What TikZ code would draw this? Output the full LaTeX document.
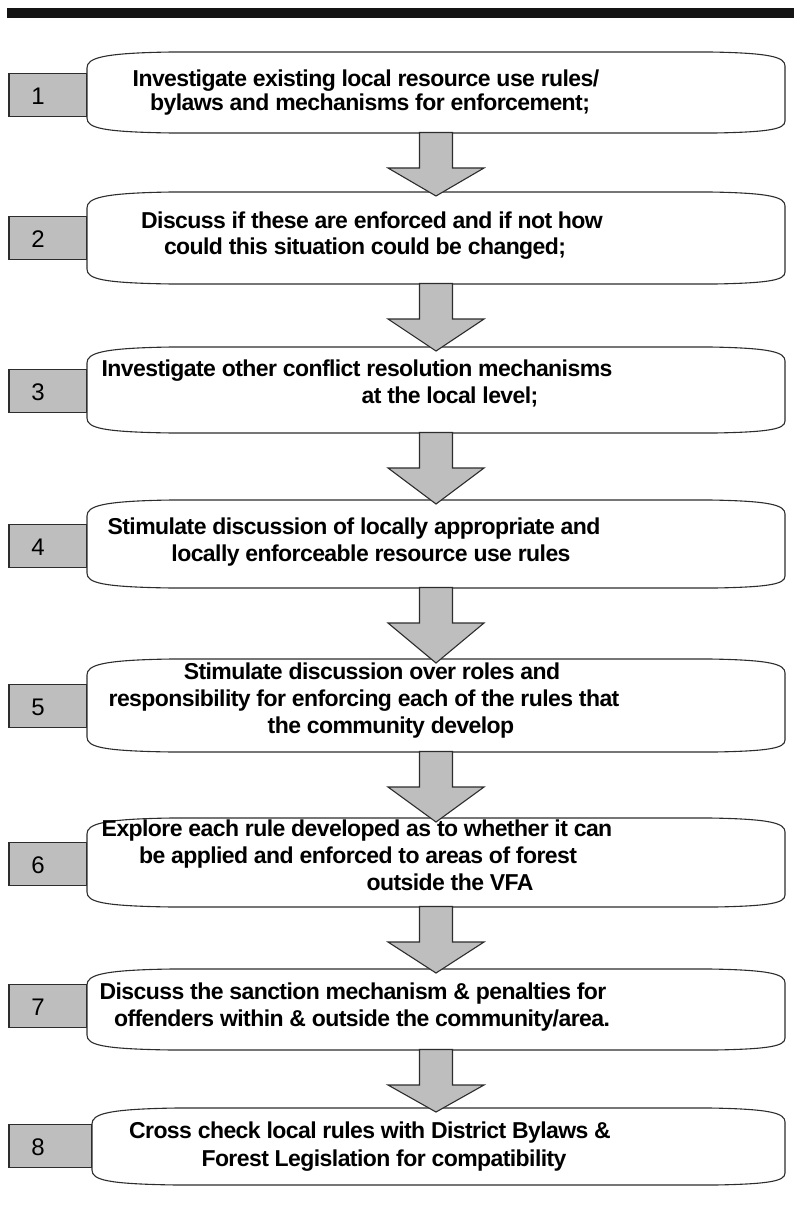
\documentclass[tikz,border=0pt]{standalone}
\usepackage{fontspec}
\setmainfont{Liberation Sans}
\newfontfamily\tightbold[LetterSpace=-2.5]{Liberation Sans Bold}
\usetikzlibrary{calc}
\definecolor{boxgray}{RGB}{190,190,190}
\definecolor{edgegray}{RGB}{45,45,45}
\tikzset{
  steparea/.style={inner sep=0pt, outer sep=0pt, draw=none},
  stepline/.style={draw=edgegray, line width=1.1pt, fill=white},
  numbox/.style={draw=edgegray, line width=1.1pt, fill=boxgray, minimum width=78pt, minimum height=43pt, inner sep=0pt, outer sep=0pt},
  numtxt/.style={inner sep=0pt, font=\fontsize{24}{28}\selectfont, text height=17pt, text depth=0pt},
  txt/.style={inner sep=0pt, font=\tightbold\fontsize{23}{26}\selectfont, text height=16pt, text depth=5pt},
  arrowstyle/.style={draw=edgegray, line width=1.1pt, fill=boxgray, line join=miter},
}
\newcommand\mkstep[5]{%
  \node[steparea, minimum width={#4-#2}, minimum height={#5-#3}] (#1) at ({(#2+#4)/2},{(#3+#5)/2}) {};
  \draw[stepline] (#2,#3+16) .. controls (#2,#3+6) and (#2+15,#3+1) .. (#2+85,#3) -- (#4-75,#3)
    .. controls (#4-15,#3+1) and (#4,#3+5) .. (#4,#3+14) -- (#4,#5-12)
    .. controls (#4,#5-4) and (#4-15,#5-1) .. (#4-70,#5) -- (#2+85,#5)
    .. controls (#2+15,#5-1) and (#2,#5-5) .. (#2,#5-15) -- cycle;
}
\newcommand\blockarrow[2]{%
  \path[arrowstyle] let \p1=(#1.south), \p2=(#2.north) in
    (\x1-16.5pt,\y1+0.5pt) -- (\x1+16.5pt,\y1+0.5pt) -- (\x1+16.5pt,\y1-35pt) -- (\x1+48pt,\y1-35pt)
    -- (\x1,\y2-4pt) -- (\x1-48pt,\y1-35pt) -- (\x1-16.5pt,\y1-35pt) -- cycle;
}
\begin{document}
\begin{tikzpicture}[x=1pt,y=-1pt]
\useasboundingbox (0,0) rectangle (794,1206);
% top bar
\fill[black!92] (7,8) rectangle (794,18);

% number boxes
\node[numbox] (n1) at (48,95) {};
\node[numbox] (n2) at (48,238) {};
\node[numbox] (n3) at (48,391) {};
\node[numbox] (n4) at (48,546) {};
\node[numbox] (n5) at (48,706) {};
\node[numbox] (n6) at (48,864) {};
\node[numbox] (n7) at (48,1006) {};
\node[numbox, minimum width=83pt] (n8) at (50.5,1146) {};
\foreach \i in {1,...,8}{\node[numtxt] (d\i) at ($(n\i.west)+(29,1)$) {\i};}

% step boxes
\mkstep{b1}{87}{52}{785}{133}
\mkstep{b2}{87}{192}{785}{284}
\mkstep{b3}{87}{347}{785}{433}
\mkstep{b4}{87}{500}{785}{588}
\mkstep{b5}{87}{659}{785}{752}
\mkstep{b6}{87}{818}{785}{907}
\mkstep{b7}{87}{969}{785}{1050}
\mkstep{b8}{92}{1108}{785}{1185}

% arrows
\blockarrow{b1}{b2}
\blockarrow{b2}{b3}
\blockarrow{b3}{b4}
\blockarrow{b4}{b5}
\blockarrow{b5}{b6}
\blockarrow{b6}{b7}
\blockarrow{b7}{b8}

% texts
\node[txt] (t1a) at (366,81) {Investigate existing local resource use rules/};
\node[txt] (t1b) at (370,105) {bylaws and mechanisms for enforcement;};
\node[txt] (t2a) at (372,223) {Discuss if these are enforced and if not how};
\node[txt] (t2b) at (365,249) {could this situation could be changed;};
\node[txt] (t3a) at (357,371) {Investigate other conflict resolution mechanisms};
\node[txt] (t3b) at (450,398) {at the local level;};
\node[txt] (t4a) at (354,529) {Stimulate discussion of locally appropriate and};
\node[txt] (t4b) at (371,556) {locally enforceable resource use rules};
\node[txt] (t5a) at (372,674) {Stimulate discussion over roles and};
\node[txt] (t5b) at (364,701) {responsibility for enforcing each of the rules that};
\node[txt] (t5c) at (391,728) {the community develop};
\node[txt] (t6a) at (357,831) {Explore each rule developed as to whether it can};
\node[txt] (t6b) at (358,858) {be applied and enforced to areas of forest};
\node[txt] (t6c) at (450,885) {outside the VFA};
\node[txt] (t7a) at (353,994) {Discuss the sanction mechanism \& penalties for};
\node[txt] (t7b) at (362,1021) {offenders within \& outside the community/area.};
\node[txt] (t8a) at (370,1133) {Cross check local rules with District Bylaws \&};
\node[txt] (t8b) at (384,1161) {Forest Legislation for compatibility};
\end{tikzpicture}
\end{document}
